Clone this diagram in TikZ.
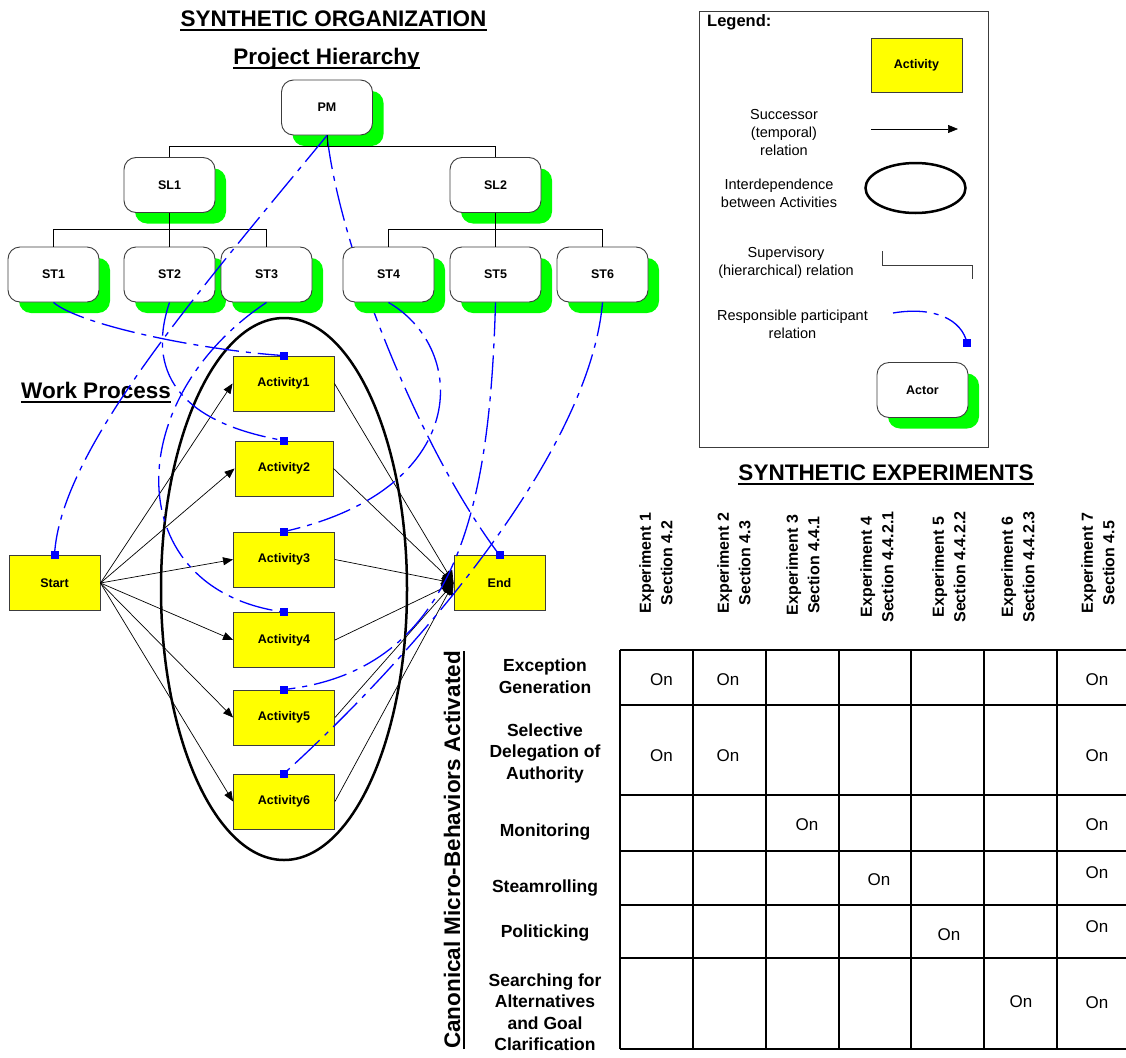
\documentclass[tikz,border=0pt]{standalone}
\usepackage{fontspec}
\setmainfont{Liberation Sans}
\usetikzlibrary{shadows,arrows.meta,shapes.geometric}
\definecolor{actgreen}{RGB}{0,255,0}
\definecolor{actyellow}{RGB}{255,255,0}
\definecolor{relblue}{RGB}{0,0,255}
\definecolor{edgegray}{RGB}{60,60,60}
\newcommand\fs[2]{\fontsize{#1}{#2}\selectfont}

\begin{document}
\begin{tikzpicture}[x=1pt,y=-1pt,
  actor/.style={draw=edgegray, line width=0.9pt, fill=white, rounded corners=12pt,
    minimum width=91pt, minimum height=55pt, inner sep=0pt, font=\fs{12.5}{15}\bfseries,
    drop shadow={shadow xshift=11pt, shadow yshift=-11pt, fill=actgreen, opacity=1}},
  activity/.style={draw=edgegray, line width=0.9pt, fill=actyellow, minimum width=101pt,
    minimum height=55pt, inner sep=0pt, font=\fs{12.5}{15}\bfseries},
  marker/.style={fill=relblue, minimum size=8pt, inner sep=0pt},
  resp/.style={relblue, line width=1.3pt, dash pattern=on 34pt off 7pt on 5pt off 7pt},
  succ/.style={line width=0.7pt, -{Triangle[length=10pt,width=8pt]}},
  succend/.style={line width=0.7pt, -{Triangle[length=12pt,width=11pt]}},
  super/.style={line width=0.8pt},
  interdep/.style={draw, ellipse, line width=2.5pt, inner sep=0pt},
  title/.style={font=\fs{22.5}{27}\bfseries, inner sep=0pt, anchor=base},
  uline/.style={line width=2pt},
  legtext/.style={font=\fs{14.5}{18}, align=center, inner sep=0pt},
  rowlabel/.style={font=\fs{17.5}{21.5}\bfseries, align=center, inner sep=0pt},
  colhead/.style={font=\fs{16}{21.5}\bfseries, align=center, rotate=90, inner sep=0pt},
  oncell/.style={font=\fs{17}{20}, inner sep=0pt},
  tabline/.style={line width=1.1pt}
]
\useasboundingbox (0,0) rectangle (1126,1057);

% ---------- titles ----------
\node[title] (tOrg) at (333.5,26.5) {SYNTHETIC ORGANIZATION};
\draw[uline] ([yshift=-3.5pt]tOrg.base west) -- ([yshift=-3.5pt]tOrg.base east);
\node[title] (tHier) at (326.5,64.5) {Project Hierarchy};
\draw[uline] ([yshift=-3.5pt]tHier.base west) -- ([yshift=-3.5pt]tHier.base east);
\node[title] (tWork) at (96,398) {Work Process};
\draw[uline] ([yshift=-4pt]tWork.base west) -- ([yshift=-4pt]tWork.base east);
\node[title] (tExp) at (886,480) {SYNTHETIC EXPERIMENTS};
\draw[uline] ([yshift=-3.5pt]tExp.base west) -- ([yshift=-3.5pt]tExp.base east);

% ---------- project hierarchy ----------
\node[actor] (PM)  at (327,107.5) {PM};
\node[actor] (SL1) at (169.5,185) {SL1};
\node[actor] (SL2) at (495.5,185) {SL2};
\node[actor] (ST1) at (53.5,274.5) {ST1};
\node[actor] (ST2) at (169.5,274.5) {ST2};
\node[actor] (ST3) at (266.5,274.5) {ST3};

% ---------- work process ----------
\node[activity, minimum width=91pt] (Start) at (54.5,583) {Start};
\node[activity] (A1) at (283.5,383.5) {Activity1};
\node[activity, minimum width=98pt] (A2) at (284,468.5) {Activity2};
\node[activity] (A3) at (284,559.5) {Activity3};
\node[activity] (A4) at (284,640) {Activity4};
\node[activity] (A5) at (284,717.5) {Activity5};
\node[activity] (A6) at (284,801.5) {Activity6};
\node[activity, minimum width=91pt] (End) at (499.5,583) {End};

\foreach \act in {A1,A2,A3,A4,A5,A6} {
  \draw[succ] (Start.east) -- (\act.west);
  \draw[succend] (\act.east) -- (End.west);
}
\node[interdep, minimum width=246pt, minimum height=542pt] (inter) at (284,589) {};

% markers of the responsible participant relation
\node[marker] (mS) at (Start.north) {};
\node[marker] (mE) at (End.north) {};
\foreach \act in {A1,A2,A3,A4,A5,A6} {
  \node[marker] (m\act) at (\act.north) {};
}

% project manager to the end activity runs behind ST4
\draw[resp] (PM.south) .. controls (340,250) and (420,450) .. (mE.center);

\node[actor] (ST4) at (388.5,274.5) {ST4};
\node[actor] (ST5) at (495.5,274.5) {ST5};
\node[actor] (ST6) at (602.5,274.5) {ST6};

% supervisory relations
\coordinate (hPM) at (327,146);
\coordinate (hSL1) at (169.5,229);
\coordinate (hSL2) at (495.5,229);
\draw[super] (PM.south) -- (hPM) -| (SL1.north);
\draw[super] (hPM) -| (SL2.north);
\draw[super] (SL1.south) -- (hSL1) -| (ST1.north);
\draw[super] (hSL1) -| (ST3.north);
\draw[super] (hSL1) -- (ST2.north);
\draw[super] (SL2.south) -- (hSL2) -| (ST4.north);
\draw[super] (hSL2) -| (ST6.north);
\draw[super] (hSL2) -- (ST5.north);

% responsible participant relations
\draw[resp] (PM.south) .. controls (200,290) and (60,450) .. (mS.center);
\draw[resp] (ST1.south) .. controls (80,325) and (200,350) .. (mA1.center);
\draw[resp] (ST2.south) .. controls (150,360) and (165,420) .. (mA2.center);
\draw[resp] (ST3.south) .. controls (120,400) and (120,590) .. (mA4.center);
\draw[resp] (ST4.south) .. controls (470,350) and (470,490) .. (mA3.center);
\draw[resp] (ST5.south) .. controls (490,500) and (460,670) .. (mA5.center);
\draw[resp] (ST6.south) .. controls (590,450) and (420,650) .. (mA6.center);

% redraw markers on top of the curves
\node[marker] at (Start.north) {};
\node[marker] at (End.north) {};
\foreach \act in {A1,A2,A3,A4,A5,A6} {
  \node[marker] at (\act.north) {};
}

% ---------- legend ----------
\draw[edgegray, line width=0.9pt] (699,11) rectangle (988,447);
\node[anchor=base west, inner sep=0pt, font=\fs{16.5}{20}\bfseries] (legTitle) at (707,27) {Legend:};
\node[activity, minimum width=91pt, minimum height=54pt] (legAct) at (916.5,65) {Activity};
\node[legtext] (legSucc) at (784,133) {Successor\\(temporal)\\relation};
\coordinate (legA) at (871,129);
\coordinate (legB) at (958,129);
\draw[succ] (legA) -- (legB);
\node[legtext] (legInt) at (779,193) {Interdependence\\between Activities};
\node[interdep, minimum width=100pt, minimum height=50pt] (legEll) at (915.5,188) {};
\node[legtext] (legSup) at (786,263) {Supervisory\\(hierarchical) relation};
\draw[super, edgegray] (882,251) |- (972,265) -- (972,279);
\node[legtext] (legResp) at (792.5,324) {Responsible participant\\relation};
\node[marker] (legMk) at (967,343) {};
\draw[resp] (893,313) .. controls (935,306) and (962,320) .. (legMk.center);
\node[marker] at (967,343) {};
\node[actor] (legActor) at (922.5,390) {Actor};

% ---------- experiments table ----------
\foreach \yy in {650,705,795,851,905,958,1049}
  \draw[tabline] (620,\yy) -- (1126,\yy);
\foreach \xx in {620,693,766,839,911,984,1057}
  \draw[tabline] (\xx,650) -- (\xx,1049);

\node[colhead] (h1) at (656,563) {Experiment 1\\Section 4.2};
\node[colhead] (h2) at (734,563) {Experiment 2\\Section 4.3};
\node[colhead] (h3) at (803,565) {Experiment 3\\Section 4.4.1};
\node[colhead] (h4) at (877,567) {Experiment 4\\Section 4.4.2.1};
\node[colhead] (h5) at (949,567) {Experiment 5\\Section 4.4.2.2};
\node[colhead] (h6) at (1018,567) {Experiment 6\\Section 4.4.2.3};
\node[colhead] (h7) at (1098,563) {Experiment 7\\Section 4.5};

\node[font=\fs{22.5}{27}\bfseries, rotate=90, anchor=base, inner sep=0pt] (canon) at (460,850)
  {Canonical Micro-Behaviors Activated};
\draw[uline] ([xshift=3.5pt]canon.base west) -- ([xshift=3.5pt]canon.base east);

\node[rowlabel] (r1) at (545,676) {Exception\\Generation};
\node[rowlabel] (r2) at (545,753) {Selective\\Delegation of\\Authority};
\node[rowlabel] (r3) at (545,832) {Monitoring};
\node[rowlabel] (r4) at (545,888) {Steamrolling};
\node[rowlabel] (r5) at (545,933) {Politicking};
\node[rowlabel] (r6) at (545,1012) {Searching for\\Alternatives\\and Goal\\Clarification};

\node[oncell] at (661.5,680) {On};
\node[oncell] at (728,680) {On};
\node[oncell] at (1097,680) {On};
\node[oncell] at (661.5,756) {On};
\node[oncell] at (728,756) {On};
\node[oncell] at (1097,756) {On};
\node[oncell] at (807,825) {On};
\node[oncell] at (1097,825) {On};
\node[oncell] at (879,880) {On};
\node[oncell] at (1097,873) {On};
\node[oncell] at (949,935) {On};
\node[oncell] at (1097,927) {On};
\node[oncell] at (1021,1002) {On};
\node[oncell] at (1097,1003) {On};
\end{tikzpicture}
\end{document}
